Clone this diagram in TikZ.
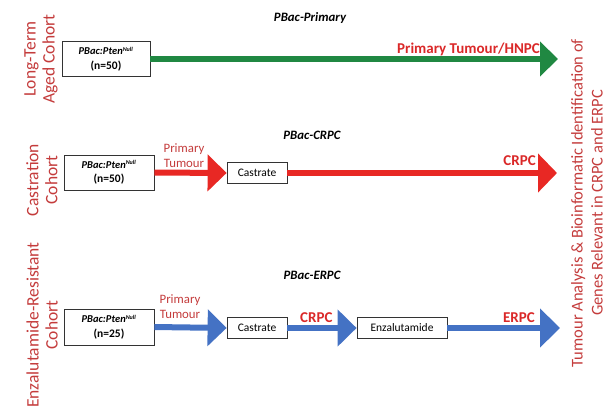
\documentclass[tikz,border=0pt]{standalone}
\usepackage{fontspec}
\setmainfont{Carlito}
\usetikzlibrary{arrows.meta}
\definecolor{labelred}{RGB}{196,60,60}
\definecolor{boldred}{RGB}{218,40,40}
\definecolor{arrred}{RGB}{232,40,36}
\definecolor{arrgreen}{RGB}{32,136,66}
\definecolor{arrblue}{RGB}{68,114,196}
\begin{document}
\begin{tikzpicture}[x=1pt,y=-1pt,
  mousebox/.style={draw=black!80,line width=0.8pt,fill=white,minimum width=88pt,minimum height=35pt,align=center,font=\fontsize{11.5}{14.5}\selectfont\bfseries,inner sep=1pt},
  stagebox/.style={draw=black!80,line width=0.8pt,fill=white,minimum height=21pt,font=\fontsize{11.5}{13}\selectfont,inner sep=1pt},
  cohort/.style={rotate=90,align=center,text=labelred,font=\fontsize{17.5}{19}\selectfont},
  title/.style={font=\fontsize{12.8}{15}\selectfont\bfseries\itshape},
  stagelab/.style={text=boldred,font=\fontsize{15}{17}\selectfont\bfseries,inner sep=0pt},
  steplab/.style={text=labelred,align=center,font=\fontsize{12.8}{15}\selectfont,inner sep=0pt},
  bigarrow/.style={line width=6pt,-{Triangle[width=36pt,length=19pt]}}
]
\useasboundingbox (0,0) rectangle (613,410);

% Row 1
\node[title] (t1) at (310,18) {PBac-Primary};
\node[cohort] (c1) at (41,59) {Long-Term\\Aged Cohort};
\node[mousebox,minimum width=88pt] (m1) at (106,59) {{\fontsize{10.5}{13}\selectfont\itshape PBac:Pten\textsuperscript{\fontsize{6}{7}\selectfont Null}}\\(n=50)};
\coordinate (e1) at (558,59);
\draw[bigarrow,arrgreen,-{Triangle[width=34pt,length=18pt]}] (m1.east) -- (e1);
\node[stagelab,anchor=east] (l1) at (540,49) {Primary Tumour/HNPC};

% Row 2
\node[title] (t2) at (312,135) {PBac-CRPC};
\node[cohort] (c2) at (42,180) {Castration\\Cohort};
\node[mousebox,minimum width=90pt] (m2) at (109,172.5) {{\fontsize{10.5}{13}\selectfont\itshape PBac:Pten\textsuperscript{\fontsize{6}{7}\selectfont Null}}\\(n=50)};
\node[stagebox,minimum width=60pt] (ca2) at (257,173) {Castrate};
\coordinate (e2) at (557,173);
\draw[bigarrow,arrred] (m2.east) -- (ca2.west);
\draw[bigarrow,arrred,-{Triangle[width=38pt,length=19pt]}] (ca2.east) -- (e2);
\node[steplab] (p2) at (184,156) {Primary\\Tumour};
\node[stagelab,anchor=east] (cr2) at (536,161) {CRPC};

% Row 3
\node[title] (t3) at (312,275) {PBac-ERPC};
\node[cohort] (c3) at (42,325) {Enzalutamide-Resistant\\Cohort};
\node[mousebox,minimum width=90pt,minimum height=36pt] (m3) at (109,327) {{\fontsize{10.5}{13}\selectfont\itshape PBac:Pten\textsuperscript{\fontsize{6}{7}\selectfont Null}}\\(n=25)};
\node[stagebox,minimum width=60pt] (ca3) at (257,328) {Castrate};
\node[stagebox,minimum width=90pt] (en3) at (402,328) {Enzalutamide};
\coordinate (e3) at (560,328);
\draw[bigarrow,arrblue] (m3.east) -- (ca3.west);
\draw[bigarrow,arrblue] (ca3.east) -- (en3.west);
\draw[bigarrow,arrblue,-{Triangle[width=38pt,length=20pt]}] (en3.east) -- (e3);
\node[steplab] (p3) at (180,307) {Primary\\Tumour};
\node[stagelab,anchor=west] (cr3) at (300,318) {CRPC};
\node[stagelab,anchor=east] (er3) at (535,318) {ERPC};

% Right label
\node[cohort,font=\fontsize{16.5}{20}\selectfont] (r) at (587,203) {Tumour Analysis \& Bioinformatic Identification of\\Genes Relevant in CRPC and ERPC};
\end{tikzpicture}
\end{document}
